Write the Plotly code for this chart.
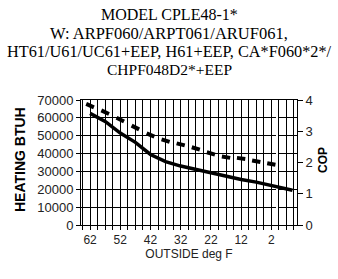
import numpy as np
import plotly.graph_objects as go

# Data
temps_cop = [62, 57, 52, 47, 42, 37, 32, 27, 22, 17, 12, 7, 2]
cop = [3.82, 3.61, 3.37, 3.12, 2.88, 2.70, 2.58, 2.45, 2.29, 2.17, 2.13, 2.04, 1.95]
temps_heat = [62, 57, 52, 47, 42, 37, 32, 27, 22, 17, 12, 7, 2, -5]
heating = [62500, 58000, 51500, 46300, 39500, 35500, 33000, 31000, 29000, 27000, 25500, 24000, 22000, 19500]
x_labels = [62, 52, 42, 32, 22, 12, 2]

title_lines = ["MODEL CPLE48-1*", "W: ARPF060/ARPT061/ARUF061,",
               "HT61/U61/UC61+EEP, H61+EEP, CA*F060*2*/", "CHPF048D2*+EEP"]
title_sizes = [16, 16.5, 16.3, 15.5]

W, H = 338, 279
ML, MR, MT, MB = 81, 41, 100, 54
XR = [65.0, -6.5]
pw, ph = W - ML - MR, H - MT - MB

# grid every 2.5 deg, labels every 10 deg
grid_vals = np.arange(-5.5, 65, 2.5)
grid_text = [str(int(v)) if int(round(v * 2)) in [2 * l for l in x_labels] else "" for v in grid_vals]

# dash orientation following the curve
xp = np.array(temps_cop) * (pw / abs(XR[1] - XR[0]))
yp = np.array(cop) * (ph / 4.0)
ang = np.degrees(np.arctan2(-np.gradient(yp), -np.gradient(xp)))

fig = go.Figure()
fig.add_trace(go.Scatter(x=temps_heat, y=heating, mode="lines",
                         line=dict(color="black", width=3.5), yaxis="y", showlegend=False))
fig.add_trace(go.Scatter(x=temps_cop, y=cop, mode="markers", yaxis="y2",
                         marker=dict(symbol="line-ew", size=6, angle=ang,
                                     line=dict(color="black", width=4)),
                         showlegend=False))

def py(pix):
    return 1 + (MT - pix) / ph

def px(pix):
    return (pix - ML) / pw

for i, t in enumerate(title_lines):
    fig.add_annotation(x=px(169), xref="paper", y=py(15 + i * 18), yref="paper",
                       xanchor="center", yanchor="middle",
                       text=t, showarrow=False,
                       font=dict(family="Liberation Serif", size=title_sizes[i], color="black"))
fig.add_annotation(x=px(20), xref="paper", y=py(160), yref="paper", text="<b>HEATING BTUH</b>",
                   textangle=-90, showarrow=False, xanchor="center", yanchor="middle",
                   font=dict(family="Liberation Sans", size=14, color="black"))
fig.add_annotation(x=px(323), xref="paper", y=py(160), yref="paper", text="<b>COP</b>",
                   textangle=-90, showarrow=False, xanchor="center", yanchor="middle",
                   font=dict(family="Liberation Sans", size=12, color="black"))

fig.update_layout(
    width=W, height=H, margin=dict(l=ML, r=MR, t=MT, b=MB),
    paper_bgcolor="white", plot_bgcolor="white",
    font=dict(family="Liberation Sans", size=12, color="black"),
    xaxis=dict(range=XR, tickmode="array", tickvals=grid_vals, ticktext=grid_text,
               ticks="outside", ticklen=4, tickcolor="black",
               showgrid=True, gridcolor="black", gridwidth=1,
               showline=True, linecolor="black", linewidth=1, mirror=True,
               tickfont=dict(size=12, color="#222"),
               title=dict(text="OUTSIDE deg F", font=dict(size=12, color="#222"), standoff=3)),
    yaxis=dict(range=[0, 70000], dtick=10000, tickformat="d", showgrid=True,
               gridcolor="black", gridwidth=1,
               showline=True, linecolor="black", ticks="outside", ticklen=4, tickcolor="black",
               tickfont=dict(size=13, color="#222"), zeroline=False),
    yaxis2=dict(range=[0, 4], dtick=1, overlaying="y", side="right", showgrid=False,
                showline=True, linecolor="black", ticks="outside", ticklen=5, tickcolor="black",
                tickfont=dict(size=13, color="#222"), zeroline=False),
)
fig.write_html("out.html", config={"displayModeBar": False},
               post_script="document.body.style.margin='0';")
